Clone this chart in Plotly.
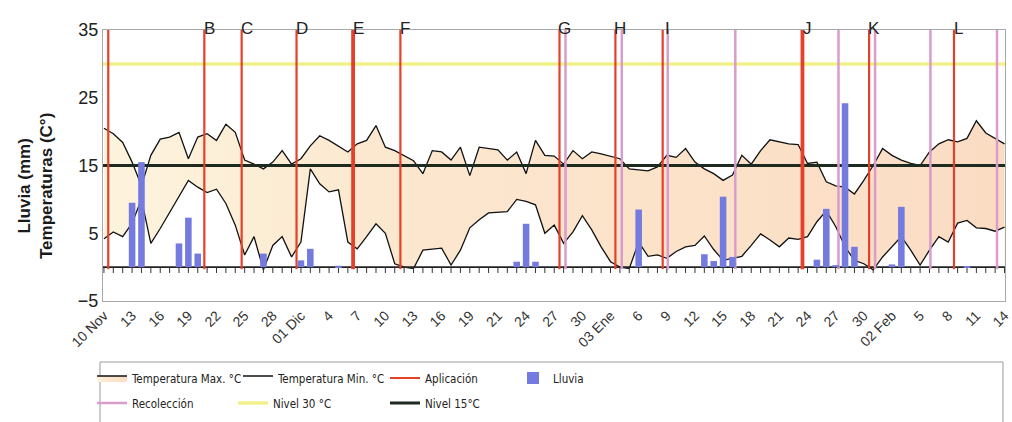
import plotly.graph_objects as go

# ---------------- data ----------------
days = list(range(97))  # day 0 = 10 Nov ... day 96 = 14 Feb

tmax = [20.5, 19.7, 18.4, 15.5, 12.0, 16.5, 18.9, 19.2, 19.9, 16.0,
        19.2, 19.7, 18.7, 21.1, 19.9, 15.8, 15.2, 14.5, 15.5, 17.2,
        15.2, 16.0, 17.9, 19.4, 18.7, 17.9, 17.0, 18.2, 18.7, 20.9,
        17.7, 17.2, 16.5, 15.7, 13.8, 17.2, 17.0, 15.8, 17.7, 13.5,
        17.7, 17.5, 17.3, 15.8, 17.0, 13.8, 18.7, 16.5, 16.4, 15.2,
        17.2, 16.0, 17.0, 16.7, 16.3, 16.0, 14.5, 14.3, 14.2, 14.8,
        16.5, 16.2, 17.5, 15.5, 14.5, 13.8, 12.8, 13.6, 16.5, 15.2,
        17.2, 18.8, 18.5, 18.2, 18.1, 15.3, 15.5, 12.6, 12.0, 11.8,
        10.8, 12.8, 15.0, 17.5, 16.5, 15.8, 15.3, 15.0, 17.0, 18.2,
        18.8, 18.5, 19.0, 21.6, 19.8, 19.0, 18.2]

tmin = [4.2, 5.2, 4.5, 6.5, 10.0, 3.5, 5.7, 8.1, 10.6, 12.8,
        11.8, 11.0, 11.5, 9.4, 6.2, 1.8, 4.5, -0.4, 3.2, 4.5,
        1.5, 3.7, 14.5, 12.3, 11.1, 11.4, 3.7, 2.7, 4.5, 6.4,
        5.0, 0.5, 0.0, -0.2, 2.5, 2.6, 2.8, 0.3, 2.5, 5.8,
        7.0, 8.0, 8.1, 8.2, 10.0, 9.7, 9.2, 5.0, 6.2, 3.5,
        5.2, 7.6, 5.5, 3.0, 0.8, 0.0, -0.2, 3.7, 1.6, 1.8,
        1.3, 2.3, 3.0, 3.2, 4.6, 2.6, 1.0, 1.3, 1.6, 3.2,
        4.9, 4.0, 3.0, 4.3, 4.1, 4.5, 6.7, 8.3, 6.0, 3.0,
        1.0, 0.5, -0.4, 1.5, 3.0, 4.5, 2.5, 0.3, 2.5, 4.5,
        3.7, 6.5, 6.9, 5.8, 5.7, 5.3, 5.9]

rain_days = [3, 4, 8, 9, 10, 17, 21, 22, 25, 44, 45, 46, 57, 64, 65, 66, 67,
             76, 77, 78, 79, 80, 84, 85, 92]
rain_mm = [9.5, 15.5, 3.5, 7.3, 2.0, 2.0, 1.0, 2.7, 0.2, 0.8, 6.4, 0.8, 8.5,
           1.9, 0.9, 10.4, 1.5, 1.1, 8.6, 0.3, 24.2, 3.0, 0.4, 8.9, 0.1]

aplic_days = [0.46, 10.7, 14.68, 20.53, 26.56, 31.6, 48.56, 54.52, 59.56,
              74.46, 81.56, 90.61]
aplic_labels = ["", "B", "C", "D", "E", "F", "G", "H", "I", "J", "K", "L"]
recol_days = [49.2, 55.2, 60.1, 67.3, 78.3, 82.2, 88.1, 95.2]

tick_days = list(range(0, 97, 3))
tick_text = ["10 Nov", "13", "16", "19", "22", "25", "28", "01 Dic", "4", "7",
             "10", "13", "16", "19", "21", "24", "27", "30", "03 Ene", "6",
             "9", "12", "15", "18", "21", "24", "27", "30", "02 Feb", "5",
             "8", "11", "14"]

level_hi = 30
level_lo = 15

# ---------------- style / layout ----------------
W, H = 1012, 422
L, R, T, B = 103, 7, 30, 121
PW, PH = W - L - R, H - T - B
XR = [-0.1, 96.05]
YR = [-5, 35]
THICK = {4, 9}
RED = "#e5402a"
PINK = "#d99ccb"
FONT = "Liberation Sans, Arial, sans-serif"
LFONT = "DejaVu Sans Condensed, Liberation Sans, sans-serif"

# legend slots: (text start x px, row centre y px)
LEG_POS = {
    "legend": (132, 378), "legend2": (278, 378), "legend3": (425, 378),
    "legend4": (553, 378), "legend5": (132, 403), "legend6": (273, 403),
    "legend7": (425, 403),
}


def px(xp):
    return (xp - L) / PW


def py(yp):
    return (T + PH - yp) / PH


def vlines(ds):
    xs, ys = [], []
    for d in ds:
        xs += [d, d, None]
        ys += [-0.3, YR[1], None]
    return xs, ys


fig = go.Figure()

fig.add_trace(go.Scatter(
    x=days, y=tmax, name="Temperatura Max. °C", mode="lines",
    line=dict(color="#111111", width=1.3), fill="tozeroy",
    fillgradient=dict(type="horizontal",
                      colorscale=[[0, "#fdf4de"], [0.3, "#fce8cf"], [1, "#fadcc3"]]),
    legend="legend"))
fig.add_trace(go.Scatter(
    x=days, y=tmin, name="Temperatura Min. °C", mode="lines",
    line=dict(color="#111111", width=1.3), fill="tozeroy", fillcolor="#ffffff",
    legend="legend2"))

# zero baseline with daily ticks
fig.add_trace(go.Scatter(x=[XR[0], XR[1]], y=[0, 0], mode="lines",
                         line=dict(color="#222222", width=1.6), showlegend=False,
                         hoverinfo="skip"))
fig.add_trace(go.Scatter(x=days, y=[-0.45] * len(days), mode="markers",
                         marker=dict(symbol="line-ns", size=4,
                                     line=dict(color="#333333", width=1)),
                         showlegend=False, hoverinfo="skip"))

fig.add_trace(go.Scatter(x=[XR[0], XR[1]], y=[level_hi, level_hi], mode="lines",
                         name="Nivel 30 °C", line=dict(color="#f2f08a", width=3.5),
                         legend="legend6"))
fig.add_trace(go.Scatter(x=[XR[0], XR[1]], y=[level_lo, level_lo], mode="lines",
                         name="Nivel 15°C", line=dict(color="#1d2a20", width=2.8),
                         legend="legend7"))

rx, ry = vlines(recol_days)
fig.add_trace(go.Scatter(x=rx, y=ry, mode="lines", name="Recolección",
                         line=dict(color=PINK, width=2.5),
                         legend="legend5", connectgaps=False))
ax, ay = vlines([d for i, d in enumerate(aplic_days) if i not in THICK])
fig.add_trace(go.Scatter(x=ax, y=ay, mode="lines", name="Aplicación",
                         line=dict(color=RED, width=2.2),
                         legend="legend3", connectgaps=False))
tx, ty = vlines([d for i, d in enumerate(aplic_days) if i in THICK])
fig.add_trace(go.Scatter(x=tx, y=ty, mode="lines", showlegend=False,
                         line=dict(color=RED, width=3.8), connectgaps=False))

fig.add_trace(go.Bar(x=rain_days, y=rain_mm, name="Lluvia", yaxis="y2",
                     marker=dict(color="#757ade", line=dict(width=0)), width=0.7,
                     legend="legend4"))

for d, lab in zip(aplic_days, aplic_labels):
    if lab:
        fig.add_annotation(x=d, y=py(17), xref="x", yref="paper", text=lab,
                           showarrow=False, xshift=5,
                           font=dict(family=FONT, size=17, color="#222222"))

fig.add_annotation(x=px(35), y=py(186), xref="paper", yref="paper",
                   text="<b>Lluvia (mm)</b><br><b>Temperaturas (C°)</b>",
                   textangle=-90, showarrow=False, xanchor="center", yanchor="middle",
                   font=dict(family=FONT, size=17, color="#1a1a1a"))

# legend frame
fig.add_shape(type="rect", xref="paper", yref="paper",
              x0=px(100), x1=px(1003), y0=py(362), y1=py(426),
              line=dict(color="#9a9a9a", width=1), fillcolor="rgba(0,0,0,0)")

legends = {}
for key, (tx0, ty0) in LEG_POS.items():
    legends[key] = dict(orientation="h", xanchor="left", yanchor="middle",
                        xref="container", yref="container",
                        x=(tx0 - 40) / W, y=1 - ty0 / H,
                        bgcolor="rgba(0,0,0,0)", borderwidth=0, itemwidth=30,
                        font=dict(family=LFONT, size=11.5, color="#222222"))

fig.update_layout(
    width=W, height=H,
    margin=dict(l=L, r=R, t=T, b=B, autoexpand=False),
    paper_bgcolor="white", plot_bgcolor="white",
    showlegend=True, barmode="overlay",
    xaxis=dict(range=XR, tickmode="array", tickvals=tick_days, ticktext=tick_text,
               tickangle=-45, showgrid=False, zeroline=False, ticks="",
               showline=True, linecolor="#a8a8a8", linewidth=1, mirror=True,
               automargin=False,
               tickfont=dict(family=FONT, size=14, color="#333333")),
    yaxis=dict(range=YR, tickvals=[-5, 5, 15, 25, 35], showgrid=False,
               zeroline=False, ticks="", showline=True, linecolor="#a8a8a8",
               linewidth=1, mirror=True, automargin=False,
               tickfont=dict(family=FONT, size=18, color="#222222")),
    yaxis2=dict(range=YR, overlaying="y", visible=False),
    **legends,
)

fig.write_html("out.html", config={"displayModeBar": False},
               post_script="document.body.style.margin='0px';")
